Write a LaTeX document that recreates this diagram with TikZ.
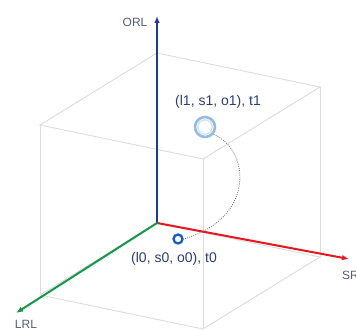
\documentclass[tikz,border=0pt]{standalone}
\usepackage{fontspec}
\setmainfont{Liberation Sans}
\usetikzlibrary{arrows.meta}
\definecolor{cubegray}{RGB}{220,220,224}
\definecolor{orlblue}{RGB}{28,58,150}
\definecolor{srlred}{RGB}{232,22,30}
\definecolor{lrlgreen}{RGB}{22,150,72}
\definecolor{axlabel}{RGB}{85,95,120}
\definecolor{ptlabel}{RGB}{45,62,115}
\definecolor{pzeroblue}{RGB}{18,92,195}
\definecolor{ponering}{RGB}{150,188,228}
\definecolor{oneinner}{RGB}{210,228,245}
\definecolor{dotgray}{RGB}{110,110,115}
\begin{document}
\begin{tikzpicture}[x=1pt,y=-1pt,
  cubeedge/.style={draw=cubegray,line width=0.9pt},
  axisline/.style={line width=2pt,-{Latex[length=7pt,width=5.5pt]}},
  axlab/.style={text=axlabel,font=\fontsize{12}{14}\selectfont,inner sep=0pt},
  ptlab/.style={text=ptlabel,font=\fontsize{14}{16}\selectfont,inner sep=0pt},
  pathdots/.style={draw=dotgray,line width=0.8pt,dash pattern=on 0.9pt off 1.3pt}]
\useasboundingbox (0,0) rectangle (356,331);
% cube corners
\coordinate (O) at (157,223);
\coordinate (L) at (40,295);
\coordinate (S) at (320,257);
\coordinate (LS) at (203,329);
\coordinate (Ot) at (157,53);
\coordinate (Lt) at (40,125);
\coordinate (St) at (320,87);
\coordinate (LSt) at (203,159);
% cube edges
\draw[cubeedge] (Ot) -- (Lt) -- (LSt) -- (St) -- cycle;
\draw[cubeedge] (O) -- (L) -- (LS) -- (S) -- cycle;
\draw[cubeedge] (O) -- (Ot);
\draw[cubeedge] (L) -- (Lt);
\draw[cubeedge] (S) -- (St);
\draw[cubeedge] (LS) -- (LSt);
% axes
\coordinate (orltip) at (157,16);
\coordinate (lrltip) at (16,313);
\coordinate (srltip) at (349,259);
\draw[axisline,draw=orlblue,-{Latex[length=7pt,width=5.5pt]},color=orlblue] (O) -- (orltip);
\draw[axisline,color=srlred] (O) -- (srltip);
\draw[axisline,color=lrlgreen] (O) -- (lrltip);
\node[axlab] (orl) at (135,22) {ORL};
\node[axlab] (lrl) at (26,324) {LRL};
\node[axlab,anchor=west] (srl) at (342,275) {SRL};
% points
\node[circle,draw=pzeroblue,line width=2.3pt,fill=white,minimum size=9pt,inner sep=0pt] (p0) at (178,239) {};
\node[circle,draw=ponering,line width=2.6pt,fill=white,minimum size=20pt,inner sep=0pt] (p1) at (205,127) {};
\draw[oneinner,line width=1.4pt] (p1.center) circle (7.2pt);
\draw[pathdots] (p1.-40) .. controls (250,150) and (256,218) .. (p0.east);
% labels
\node[ptlab] (lab1) at (218,102) {(l1, s1, o1), t1};
\node[ptlab] (lab0) at (174,259) {(l0, s0, o0), t0};
\end{tikzpicture}
\end{document}
